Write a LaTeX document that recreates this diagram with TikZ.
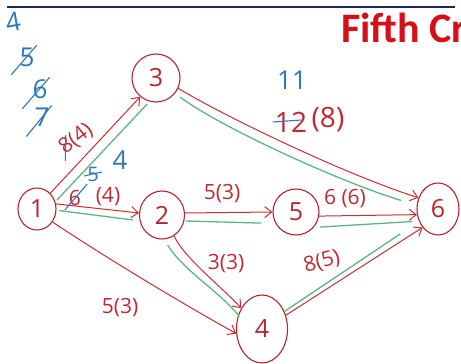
\documentclass[tikz,border=0pt]{standalone}
\usepackage{fontspec}
\setmainfont{Open Sans}
\newfontfamily\titlefont{Carlito}
\usetikzlibrary{arrows.meta,shapes.geometric,calc}
\definecolor{nred}{RGB}{180,38,45}
\definecolor{ered}{RGB}{205,45,50}
\definecolor{tred}{RGB}{195,40,50}
\definecolor{ttl}{RGB}{215,15,25}
\definecolor{gr}{RGB}{95,180,135}
\definecolor{bl}{RGB}{45,120,185}
\definecolor{navy}{RGB}{30,40,90}
\begin{document}
\begin{tikzpicture}[x=1pt,y=-1pt,
  vtx/.style={ellipse,draw=nred,line width=1.1pt,inner sep=0pt,text=nred,font=\fontsize{25}{25}\selectfont},
  rarr/.style={draw=ered,line width=1pt,-{Straight Barb[length=7pt,width=11pt]}},
  grn/.style={draw=gr,line width=1.3pt},
  lab/.style={text=tred,inner sep=0pt,font=\fontsize{21}{21}\selectfont},
  biglab/.style={text=tred,inner sep=0pt,font=\fontsize{28}{28}\selectfont},
  blab/.style={text=bl,inner sep=0pt,font=\fontsize{26}{26}\selectfont},
  bstrike/.style={draw=bl,line width=1.1pt}
]
\useasboundingbox (0,0) rectangle (461,364);
\clip (0,0) rectangle (461,364);
\fill[white] (0,0) rectangle (461,364);
\coordinate (tl) at (7,7);
\coordinate (tr) at (455,7);
\draw[navy,line width=1.6pt] (tl) -- (tr);

\node[anchor=base west,inner sep=0pt,text=ttl,font=\titlefont\bfseries\fontsize{42}{42}\selectfont] (title) at (341,42) {Fifth Cr};

% vertices
\node[vtx,minimum width=38pt,minimum height=42pt] (n1) at (37,209) {1};
\node[vtx,minimum width=48pt,minimum height=48pt] (n3) at (156,78) {3};
\node[vtx,minimum width=45pt,minimum height=48pt] (n2) at (162,215) {2};
\node[vtx,minimum width=46pt,minimum height=46pt] (n5) at (296,212) {5};
\node[vtx,minimum width=42pt,minimum height=52pt] (n6) at (438,209) {6};
\node[vtx,minimum width=51pt,minimum height=68pt] (n4) at (262,329) {4};

% green highlight lines
\draw[grn] ([shift={(6,6)}]n1.47) -- ([shift={(8,8)}]n3.227);
\draw[grn] ([shift={(4,5)}]n3.-35) .. controls +(40,30) and +(-60,-18) .. ([shift={(-16,-3)}]n6.165);
\draw[grn] ([shift={(3,5)}]n1.10) -- ([shift={(-6,3)}]n2.185);
\draw[grn] ([shift={(1,2)}]n2.-10) -- ([shift={(-12,5)}]n5.195);
\draw[grn] ([shift={(2,7)}]n5.-20) -- ([shift={(-5,5)}]n6.200);
\draw[grn] ([shift={(10,6)}]n2.-100) .. controls +(15,25) and +(-20,-25) .. ([shift={(2,-4)}]n4.160);
\draw[grn] ([shift={(2,3)}]n4.45) -- ([shift={(-20,10)}]n6.-140);

% red arrows
\draw[rarr] (n1.50) -- (n3.230);
\draw[rarr] (n3.-25) .. controls +(50,30) and +(-70,-22) .. (n6.150);
\draw[rarr] (n1.15) -- (n2.175);
\draw[rarr] (n2.5) -- (n5.180);
\draw[rarr] (n5.-10) -- (n6.-165);
\draw[rarr] (n2.-60) .. controls +(10,22) and +(-18,-20) .. (n4.135);
\draw[rarr] (n1.-40) .. controls +(60,40) and +(-45,-25) .. (n4.190);
\draw[rarr] (n4.30) -- (n6.-130);

% blue column at left
\node[blab,rotate=10] (c4) at (13,22) {4};
\node[blab] (c5) at (27,57) {5};
\node[blab] (c6) at (40,89) {6};
\node[blab] (c7) at (42,117) {7};
\draw[bstrike] ([shift={(-8,8)}]c5.south west) -- ([shift={(2,-2)}]c5.north east);
\draw[bstrike] ([shift={(-10,10)}]c6.south west) -- ([shift={(2,-2)}]c6.north east);
\draw[bstrike] ([shift={(-8,10)}]c7.south west) -- ([shift={(2,-2)}]c7.north east);

% label on 1-3
\node[lab,rotate=38] (l84) at (76,139) {8(4)};
\draw[bstrike] ([shift={(-2,3)}]l84.south west) -- ($(l84.north west)!0.35!(l84.north east)$);

% label on 1-2
\node[lab] (r6) at (75,198) {6};
\node[blab,font=\fontsize{20}{20}\selectfont] (b5) at (93,174) {5};
\node[blab] (b4) at (120,160) {4};
\node[lab] (p4) at (108,197) {(4)};
\draw[bstrike] ([shift={(-4,4)}]r6.south west) -- ([shift={(6,-6)}]r6.north east);
\draw[bstrike] ([shift={(-3,2)}]b5.west) -- ([shift={(3,-2)}]b5.east);

% label on 3-6
\node[blab] (b11) at (292,80) {11};
\node[biglab] (r12) at (291,122) {12};
\node[biglab] (r8) at (328,120) {(8)};
\draw[bstrike] ([shift={(-2,0)}]r12.west) -- ([shift={(-6,-2)}]r12.east);

% other labels
\node[lab] (l25) at (222,194) {5(3)};
\node[lab] (l56) at (345,199) {6 (6)};
\node[lab] (l24) at (226,264) {3(3)};
\node[lab,rotate=15] (l46) at (322,262) {8(5)};
\node[lab] (l14) at (120,308) {5(3)};
\end{tikzpicture}
\end{document}
